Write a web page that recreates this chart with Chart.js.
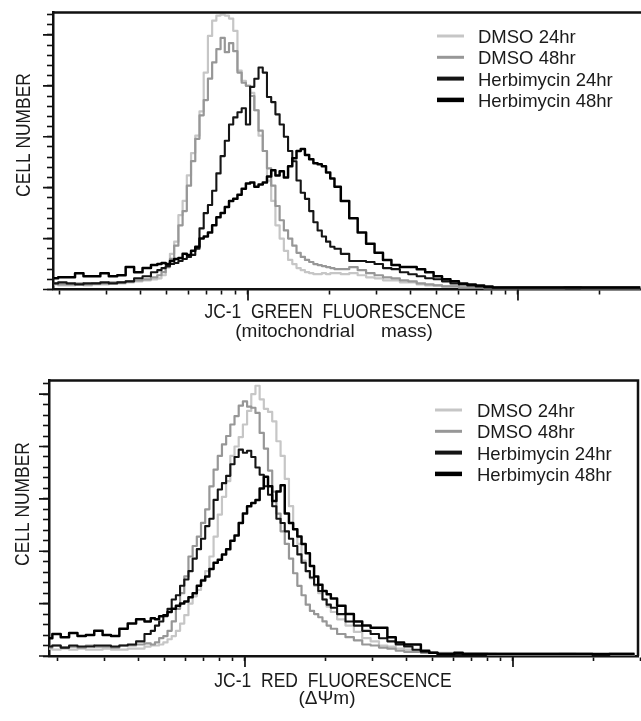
<!DOCTYPE html>
<html lang="en">
<head>
  <meta charset="UTF-8" />
  <title>JC-1 histograms</title>
  <script src="https://cdn.jsdelivr.net/npm/chart.js"></script>
  <style>
    html, body {
      margin: 0;
      padding: 0;
      background: #fff;
      overflow: hidden;
    }
    body {
      width: 641px;
      height: 721px;
      position: relative;
    }
    .panel {
      position: absolute;
      left: 0;
    }
    #greenPanel { top: 0; width: 648px; height: 350px; }
    #redPanel { top: 360px; width: 641px; height: 361px; }
  </style>
</head>
<body>
  <div class="panel" id="greenPanel"><canvas id="greenChart"></canvas></div>
  <div class="panel" id="redPanel"><canvas id="redChart"></canvas></div>

  <script>
    const seriesLabels = ["DMSO 24hr", "DMSO 48hr", "Herbimycin 24hr", "Herbimycin 48hr"];

    // histogram channels (256 per decade) and cell counts
    const greenChannels = [72, 80, 88, 96, 104, 112, 120, 128, 136, 144, 152, 160, 168,
      172, 176, 180, 184, 188, 192, 196, 200, 204, 208, 212, 216, 220, 224, 228, 232, 236, 240,
      244, 248, 252, 256, 260, 264, 268, 272, 276, 280, 284, 288, 292, 296, 300, 304, 308, 312,
      316, 320, 324, 328, 332, 336, 340,
      348, 356, 364, 372, 380, 388, 396, 404, 412, 420, 428, 436, 444, 452, 460, 468, 476, 484,
      492, 500, 508, 516,
      532, 548, 564, 580, 596, 612, 628];
    const greenDmso24 = [5, 4, 4, 5, 4, 5, 5, 6, 6, 7, 8, 9, 10,
      11, 14, 22, 35, 47, 73, 87, 112, 134, 151, 175, 213, 249, 264, 269, 270, 269, 266,
      254, 215, 205, 200, 193, 176, 151, 136, 107, 87, 63, 50, 38, 29, 25, 21, 19, 17,
      16, 15, 15, 16, 15, 16, 16,
      15, 16, 14, 12, 11, 9, 9, 7, 7, 5, 4, 4, 3, 3, 2, 2, 2, 1,
      1, 1, 1, 1,
      1, 1, 1, 1, 1, 1, 1];
    const greenDmso48 = [6, 5, 5, 6, 5, 6, 6, 7, 7, 8, 9, 10, 12,
      14, 17, 22, 30, 43, 63, 77, 102, 126, 148, 171, 186, 207, 223, 236, 247, 233, 242,
      234, 213, 203, 200, 190, 176, 156, 136, 119, 102, 82, 68, 58, 50, 43, 36, 32, 29,
      27, 25, 24, 23, 22, 21, 20,
      20, 22, 19, 16, 14, 12, 11, 9, 8, 6, 5, 4, 3, 3, 2, 2, 2, 1,
      1, 1, 1, 1,
      1, 1, 2, 1, 1, 1, 1];
    const greenHerb24 = [6, 7, 6, 5, 6, 6, 7, 6, 7, 8, 11, 13, 17,
      19, 21, 23, 25, 26, 28, 30, 32, 34, 40, 60, 75, 83, 97, 114, 131, 146, 162,
      169, 174, 178, 162, 199, 207, 218, 213, 189, 184, 172, 162, 150, 136, 126, 107, 95, 89,
      77, 66, 58, 52, 47, 42, 40,
      35, 28, 28, 27, 25, 21, 20, 17, 15, 13, 11, 10, 8, 6, 5, 4, 3, 2,
      2, 2, 2, 2,
      2, 2, 2, 2, 2, 2, 2];
    const greenHerb48 = [11, 12, 12, 16, 13, 13, 16, 13, 14, 22, 17, 21, 24,
      25, 26, 25, 28, 30, 31, 35, 34, 38, 42, 50, 52, 56, 63, 71, 75, 81, 87,
      89, 93, 99, 104, 105, 101, 103, 105, 111, 117, 112, 116, 110, 121, 129, 136, 138, 132,
      128, 124, 123, 121, 115, 109, 101,
      87, 70, 56, 45, 36, 29, 24, 22, 22, 20, 17, 13, 10, 8, 6, 5, 4, 3,
      2, 2, 2, 2,
      2, 2, 2, 2, 2, 2, 2];

    const redChannels = [68, 76, 84, 92, 100, 108, 116, 124, 132, 140, 148, 156, 164,
      168, 172, 176, 180, 184, 188, 192, 196, 200, 204, 208, 212, 216, 220, 224, 228, 232, 236,
      240, 244, 248, 252, 256, 260, 264, 268, 272, 276, 280, 284, 288, 292, 296, 300, 304, 308,
      312, 316, 320, 324, 328, 332, 336, 340,
      348, 356, 364, 372, 380, 388, 396, 404, 412, 420, 428, 436, 444, 452, 460, 468, 476, 484,
      492, 500, 508, 516,
      532, 548, 564, 580, 596, 612, 628];
    const redDmso24 = [7, 6, 7, 6, 7, 6, 6, 7, 6, 6, 7, 7, 9,
      10, 10, 11, 13, 16, 19, 24, 31, 39, 50, 57, 63, 73, 81, 95, 114, 135, 152,
      167, 191, 200, 209, 221, 234, 250, 258, 245, 236, 233, 224, 205, 191, 169, 143, 121, 107,
      91, 81, 74, 67, 60, 54, 47, 42,
      35, 29, 23, 17, 14, 10, 9, 7, 6, 5, 4, 3, 3, 3, 2, 2, 2, 2,
      2, 1, 1, 1,
      1, 1, 2, 1, 1, 1, 1];
    const redDmso48 = [8, 10, 8, 9, 8, 10, 9, 9, 8, 10, 10, 11, 12,
      11, 13, 17, 19, 24, 33, 45, 60, 76, 95, 105, 114, 127, 140, 162, 178, 191, 202,
      210, 221, 229, 239, 243, 238, 237, 232, 213, 198, 177, 157, 136, 119, 107, 93, 79, 67,
      58, 49, 43, 40, 37, 33, 29, 26,
      21, 18, 15, 11, 10, 8, 7, 5, 4, 4, 3, 3, 2, 2, 2, 2, 2, 2,
      1, 1, 1, 1,
      1, 1, 1, 1, 1, 1, 1];
    const redHerb24 = [9, 10, 8, 10, 9, 9, 10, 10, 9, 10, 11, 14, 21,
      24, 29, 33, 38, 45, 54, 58, 67, 73, 81, 93, 102, 112, 124, 131, 149, 159, 165,
      172, 183, 190, 197, 194, 196, 190, 180, 173, 162, 154, 143, 131, 127, 119, 112, 105, 97,
      89, 81, 75, 68, 62, 54, 49, 46,
      40, 33, 29, 24, 21, 17, 14, 11, 9, 6, 4, 3, 2, 2, 2, 2, 2, 2,
      2, 2, 2, 2,
      2, 2, 2, 2, 1, 2, 2];
    const redHerb48 = [17, 21, 18, 22, 19, 20, 24, 20, 19, 26, 31, 35, 33,
      36, 35, 38, 39, 42, 45, 48, 50, 52, 56, 60, 67, 72, 76, 83, 89, 92, 97,
      102, 110, 115, 127, 136, 143, 146, 149, 160, 171, 162, 148, 157, 163, 136, 127, 121, 114,
      107, 98, 86, 76, 68, 62, 59, 55,
      48, 40, 33, 29, 27, 27, 18, 13, 11, 11, 5, 3, 2, 2, 3, 2, 2, 2,
      2, 2, 2, 2,
      2, 2, 2, 2, 2, 2, 2];

    // axis ticks: log decades on x (in channels), counts on y
    const channelsPerDecade = 256;
    const decadeChannels = [0, 256, 512];
    const logSteps = [2, 3, 4, 5, 6, 7, 8, 9];
    const countStep = 10;
    const countMajorStep = 50;

    const xTickChannels = [];
    decadeChannels.forEach(d => {
      xTickChannels.push(d);
      logSteps.forEach(k => xTickChannels.push(d + channelsPerDecade * Math.log10(k)));
    });

    const styles = [
      { color: "#c6c6c6", width: 2.2, key: 3 },
      { color: "#979797", width: 2.2, key: 3 },
      { color: "#151515", width: 2.1, key: 4 },
      { color: "#000000", width: 2.5, key: 4.5 }
    ];

    const FONT = "'Liberation Sans', Arial, Helvetica, sans-serif";
    const INK = "#1a1a1a";

    function drawText(ctx, t) {
      ctx.save();
      ctx.translate(t.x, t.y);
      if (t.angle) ctx.rotate(t.angle);
      ctx.scale(t.squeeze || 1, 1);
      ctx.font = (t.size || 19) + "px " + FONT;
      ctx.fillStyle = INK;
      ctx.textAlign = t.align || "center";
      ctx.textBaseline = t.baseline || "alphabetic";
      ctx.fillText(t.text, 0, 0);
      ctx.restore();
    }

    const panelDecor = {
      id: "panelDecor",
      afterDraw(chart, args, o) {
        const { ctx, chartArea: a, scales: { x, y } } = chart;
        ctx.save();
        ctx.strokeStyle = "#111";
        ctx.lineWidth = 2.5;
        ctx.beginPath();
        ctx.moveTo(a.left - 1, a.top);
        ctx.lineTo(a.right, a.top);
        ctx.lineTo(a.right, a.bottom);
        ctx.stroke();

        // longer ticks on decades and every 50 cells
        ctx.lineWidth = 1.7;
        ctx.beginPath();
        decadeChannels.forEach(c => {
          const px = x.getPixelForValue(c);
          if (px > a.left && px < a.right) {
            ctx.moveTo(px, a.bottom);
            ctx.lineTo(px, a.bottom + 11);
          }
        });
        for (let v = 0; v <= y.max; v += countMajorStep) {
          const py = y.getPixelForValue(v);
          ctx.moveTo(a.left, py);
          ctx.lineTo(a.left - 10, py);
        }
        ctx.stroke();
        ctx.restore();

        drawText(ctx, { text: o.yTitle.text, x: o.yTitle.x, y: o.yTitle.y, angle: -Math.PI / 2,
          baseline: "middle", size: 20, squeeze: 0.87 });
        o.xTitle.forEach(t => drawText(ctx, t));

        // legend
        const lg = o.legend;
        chart.data.datasets.forEach((ds, i) => {
          const base = lg.y + i * lg.step;
          ctx.save();
          ctx.strokeStyle = ds.borderColor;
          ctx.lineWidth = styles[i].key;
          ctx.beginPath();
          ctx.moveTo(lg.x, base - 7);
          ctx.lineTo(lg.x + 27, base - 7);
          ctx.stroke();
          ctx.restore();
          drawText(ctx, { text: ds.label, x: lg.textX, y: base, size: 18.5, align: "left" });
        });
      }
    };

    function makePanel(canvasId, channels, series, frame, decor) {
      const datasets = series.map((values, i) => ({
        label: seriesLabels[i],
        data: channels.map((c, j) => ({ x: c, y: values[j] })),
        borderColor: styles[i].color,
        borderWidth: styles[i].width,
        borderJoinStyle: "round",
        stepped: "middle",
        pointRadius: 0,
        tension: 0,
        fill: false,
        order: 4 - i
      }));

      return new Chart(document.getElementById(canvasId), {
        type: "line",
        data: { datasets },
        plugins: [panelDecor],
        options: {
          responsive: true,
          maintainAspectRatio: false,
          animation: false,
          events: [],
          layout: { autoPadding: false, padding: { top: frame.top, right: frame.right, left: 0, bottom: 0 } },
          plugins: {
            legend: { display: false },
            tooltip: { enabled: false },
            panelDecor: decor
          },
          scales: {
            x: {
              type: "linear",
              min: frame.xMin,
              max: frame.xMax,
              afterFit: s => { s.height = frame.bottomSpace; },
              afterBuildTicks: s => { s.ticks = xTickChannels.map(v => ({ value: v })); },
              ticks: { display: false },
              grid: { drawOnChartArea: false, tickLength: 5, tickColor: "#111", tickWidth: 1.6 },
              border: { color: "#111", width: 2.5 }
            },
            y: {
              min: 0,
              max: frame.yMax,
              afterFit: s => { s.width = frame.left; },
              afterBuildTicks: s => {
                const t = [];
                for (let v = 0; v <= frame.yMax; v += countStep) t.push({ value: v });
                s.ticks = t;
              },
              ticks: { display: false },
              grid: { drawOnChartArea: false, tickLength: 6, tickColor: "#111", tickWidth: 1.6 },
              border: { color: "#111", width: 2.5 }
            }
          }
        }
      });
    }

    makePanel("greenChart", greenChannels,
      [greenDmso24, greenDmso48, greenHerb24, greenHerb48],
      { left: 53, top: 12.5, right: 2, bottomSpace: 60.5, xMin: 71.1, xMax: 633.4, yMax: 272 },
      {
        yTitle: { text: "CELL NUMBER", x: 24.5, y: 135 },
        xTitle: [
          { text: "JC-1  GREEN  FLUORESCENCE", x: 335, y: 318, size: 20, squeeze: 0.87 },
          { text: "(mitochondrial     mass)", x: 334, y: 337 }
        ],
        legend: { x: 437, textX: 478, y: 43, step: 21.3 }
      });

    makePanel("redChart", redChannels,
      [redDmso24, redDmso48, redHerb24, redHerb48],
      { left: 49, top: 20.5, right: 3, bottomSpace: 65, xMin: 68.8, xMax: 631.4, yMax: 263 },
      {
        yTitle: { text: "CELL NUMBER", x: 23.5, y: 144 },
        xTitle: [
          { text: "JC-1  RED  FLUORESCENCE", x: 333, y: 327, size: 20, squeeze: 0.875 },
          { text: "(\u0394\u03A8m)", x: 327, y: 344 }
        ],
        legend: { x: 435, textX: 477, y: 57, step: 21.3 }
      });
  </script>
</body>
</html>
